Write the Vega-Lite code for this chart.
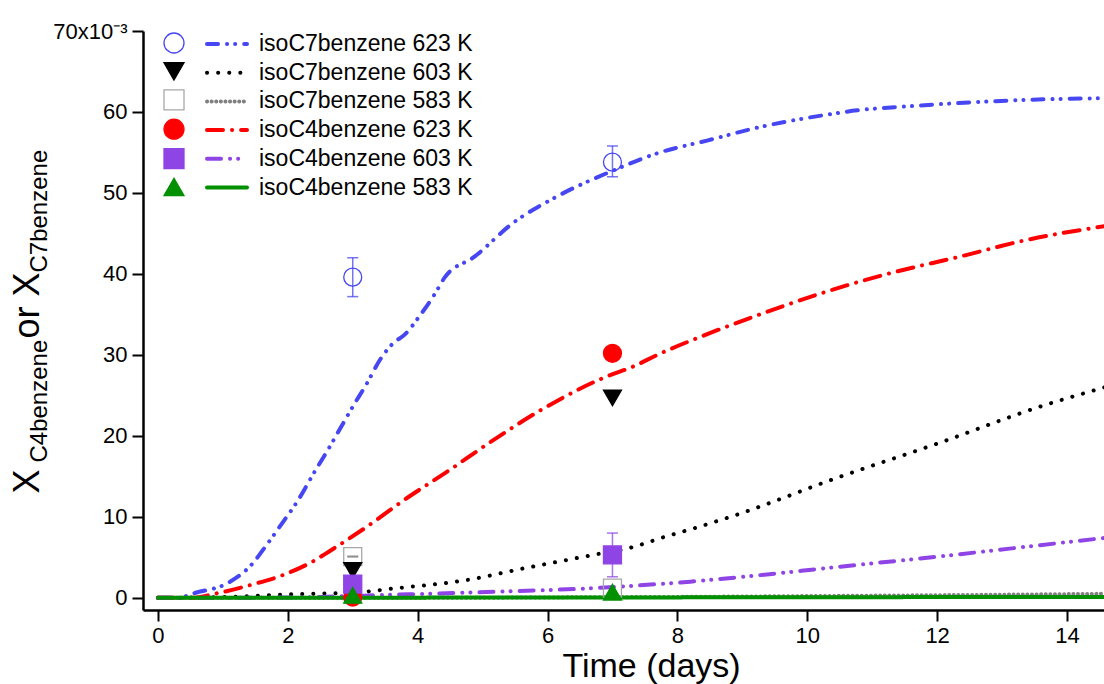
{
  "$schema": "https://vega.github.io/schema/vega-lite/v6.json",
  "width": 961,
  "height": 579,
  "autosize": {"type": "none"},
  "padding": {"left": 143, "top": 31, "right": 0, "bottom": 74},
  "background": "white",
  "config": {
    "view": {"stroke": null},
    "font": "Liberation Sans",
    "axis": {
      "grid": false,
      "domainColor": "black",
      "domainWidth": 2.5,
      "tickColor": "black",
      "tickWidth": 2,
      "tickSize": 11,
      "labelFont": "Liberation Sans",
      "labelFontSize": 22,
      "labelColor": "black",
      "titleFont": "Liberation Sans",
      "titleFontWeight": "normal",
      "titleColor": "black"
    },
    "legend": {"labelFont": "Liberation Sans", "labelColor": "black", "labelLimit": 0}
  },
  "datasets": {
    "curves": [
      {"s": "isoC7benzene 623 K", "t": 0, "v": 0},
      {"s": "isoC7benzene 623 K", "t": 0.3, "v": 0},
      {"s": "isoC7benzene 623 K", "t": 0.57, "v": 0.6},
      {"s": "isoC7benzene 623 K", "t": 1.08, "v": 1.85},
      {"s": "isoC7benzene 623 K", "t": 1.43, "v": 4.0},
      {"s": "isoC7benzene 623 K", "t": 1.68, "v": 6.6},
      {"s": "isoC7benzene 623 K", "t": 1.92, "v": 9.3},
      {"s": "isoC7benzene 623 K", "t": 2.13, "v": 11.7},
      {"s": "isoC7benzene 623 K", "t": 2.43, "v": 15.8},
      {"s": "isoC7benzene 623 K", "t": 2.62, "v": 18.3},
      {"s": "isoC7benzene 623 K", "t": 2.82, "v": 21.1},
      {"s": "isoC7benzene 623 K", "t": 3.03, "v": 24.0},
      {"s": "isoC7benzene 623 K", "t": 3.22, "v": 26.5},
      {"s": "isoC7benzene 623 K", "t": 3.42, "v": 29.4},
      {"s": "isoC7benzene 623 K", "t": 3.63, "v": 31.5},
      {"s": "isoC7benzene 623 K", "t": 3.8, "v": 32.5},
      {"s": "isoC7benzene 623 K", "t": 4.02, "v": 34.7},
      {"s": "isoC7benzene 623 K", "t": 4.27, "v": 37.6},
      {"s": "isoC7benzene 623 K", "t": 4.42, "v": 39.6},
      {"s": "isoC7benzene 623 K", "t": 4.87, "v": 42.1},
      {"s": "isoC7benzene 623 K", "t": 5.47, "v": 46.3},
      {"s": "isoC7benzene 623 K", "t": 6.13, "v": 49.5},
      {"s": "isoC7benzene 623 K", "t": 7.02, "v": 52.8},
      {"s": "isoC7benzene 623 K", "t": 7.69, "v": 54.9},
      {"s": "isoC7benzene 623 K", "t": 8.47, "v": 56.5},
      {"s": "isoC7benzene 623 K", "t": 9.25, "v": 58.1},
      {"s": "isoC7benzene 623 K", "t": 10.25, "v": 59.6},
      {"s": "isoC7benzene 623 K", "t": 10.77, "v": 60.2},
      {"s": "isoC7benzene 623 K", "t": 11.55, "v": 60.7},
      {"s": "isoC7benzene 623 K", "t": 12.33, "v": 61.1},
      {"s": "isoC7benzene 623 K", "t": 13.38, "v": 61.5},
      {"s": "isoC7benzene 623 K", "t": 14.58, "v": 61.7},
      {"s": "isoC7benzene 583 K", "t": 0, "v": 0},
      {"s": "isoC7benzene 583 K", "t": 4, "v": 0},
      {"s": "isoC7benzene 583 K", "t": 6, "v": 0.05},
      {"s": "isoC7benzene 583 K", "t": 8, "v": 0.12},
      {"s": "isoC7benzene 583 K", "t": 10, "v": 0.22},
      {"s": "isoC7benzene 583 K", "t": 12, "v": 0.33},
      {"s": "isoC7benzene 583 K", "t": 14.58, "v": 0.5},
      {"s": "isoC7benzene 603 K", "t": 0, "v": 0},
      {"s": "isoC7benzene 603 K", "t": 1, "v": 0.1},
      {"s": "isoC7benzene 603 K", "t": 1.92, "v": 0.4},
      {"s": "isoC7benzene 603 K", "t": 3.1, "v": 0.7},
      {"s": "isoC7benzene 603 K", "t": 3.68, "v": 1.2},
      {"s": "isoC7benzene 603 K", "t": 4.3, "v": 1.7},
      {"s": "isoC7benzene 603 K", "t": 4.68, "v": 2.1},
      {"s": "isoC7benzene 603 K", "t": 5.67, "v": 3.7},
      {"s": "isoC7benzene 603 K", "t": 6.7, "v": 5.3},
      {"s": "isoC7benzene 603 K", "t": 7.33, "v": 6.3},
      {"s": "isoC7benzene 603 K", "t": 7.75, "v": 7.4},
      {"s": "isoC7benzene 603 K", "t": 8.22, "v": 8.5},
      {"s": "isoC7benzene 603 K", "t": 8.89, "v": 10.2},
      {"s": "isoC7benzene 603 K", "t": 10.45, "v": 14.8},
      {"s": "isoC7benzene 603 K", "t": 12.02, "v": 19.1},
      {"s": "isoC7benzene 603 K", "t": 13.58, "v": 23.6},
      {"s": "isoC7benzene 603 K", "t": 14.58, "v": 26.0},
      {"s": "isoC4benzene 623 K", "t": 0, "v": 0},
      {"s": "isoC4benzene 623 K", "t": 0.5, "v": 0},
      {"s": "isoC4benzene 623 K", "t": 0.93, "v": 0.6},
      {"s": "isoC4benzene 623 K", "t": 1.43, "v": 1.6},
      {"s": "isoC4benzene 623 K", "t": 1.92, "v": 2.8},
      {"s": "isoC4benzene 623 K", "t": 2.43, "v": 4.7},
      {"s": "isoC4benzene 623 K", "t": 2.63, "v": 5.7},
      {"s": "isoC4benzene 623 K", "t": 3.22, "v": 8.8},
      {"s": "isoC4benzene 623 K", "t": 3.83, "v": 12.3},
      {"s": "isoC4benzene 623 K", "t": 4.42, "v": 15.4},
      {"s": "isoC4benzene 623 K", "t": 5.17, "v": 19.5},
      {"s": "isoC4benzene 623 K", "t": 5.9, "v": 23.2},
      {"s": "isoC4benzene 623 K", "t": 6.9, "v": 27.3},
      {"s": "isoC4benzene 623 K", "t": 7.33, "v": 28.6},
      {"s": "isoC4benzene 623 K", "t": 7.69, "v": 30.0},
      {"s": "isoC4benzene 623 K", "t": 8.47, "v": 32.6},
      {"s": "isoC4benzene 623 K", "t": 9.2, "v": 34.8},
      {"s": "isoC4benzene 623 K", "t": 10.25, "v": 37.7},
      {"s": "isoC4benzene 623 K", "t": 11.28, "v": 40.1},
      {"s": "isoC4benzene 623 K", "t": 12.33, "v": 42.1},
      {"s": "isoC4benzene 623 K", "t": 13.38, "v": 44.2},
      {"s": "isoC4benzene 623 K", "t": 14.58, "v": 45.9},
      {"s": "isoC4benzene 603 K", "t": 0, "v": 0},
      {"s": "isoC4benzene 603 K", "t": 2, "v": 0.05},
      {"s": "isoC4benzene 603 K", "t": 3.68, "v": 0.4},
      {"s": "isoC4benzene 603 K", "t": 5.18, "v": 0.75},
      {"s": "isoC4benzene 603 K", "t": 6.7, "v": 1.2},
      {"s": "isoC4benzene 603 K", "t": 7.33, "v": 1.5},
      {"s": "isoC4benzene 603 K", "t": 8.2, "v": 2.0},
      {"s": "isoC4benzene 603 K", "t": 8.89, "v": 2.5},
      {"s": "isoC4benzene 603 K", "t": 10.45, "v": 3.8},
      {"s": "isoC4benzene 603 K", "t": 12.02, "v": 5.1},
      {"s": "isoC4benzene 603 K", "t": 13.58, "v": 6.5},
      {"s": "isoC4benzene 603 K", "t": 14.58, "v": 7.4},
      {"s": "isoC4benzene 583 K", "t": 0, "v": 0},
      {"s": "isoC4benzene 583 K", "t": 7, "v": 0.05},
      {"s": "isoC4benzene 583 K", "t": 14.58, "v": 0.12}
    ],
    "pts": [
      {"p": "C7_623", "t": 3, "v": 39.6, "lo": 37.2, "hi": 42.0},
      {"p": "C7_623", "t": 7, "v": 53.8, "lo": 52.0, "hi": 55.8},
      {"p": "C7_583", "t": 3, "v": 5.1, "lo": 5.05, "hi": 5.15},
      {"p": "C7_583", "t": 7, "v": 1.2},
      {"p": "C7_603", "t": 3, "v": 3.4},
      {"p": "C7_603", "t": 7, "v": 24.7},
      {"p": "C4_623", "t": 3, "v": 0.1},
      {"p": "C4_623", "t": 7, "v": 30.2},
      {"p": "C4_603", "t": 3, "v": 1.7},
      {"p": "C4_603", "t": 7, "v": 5.3, "lo": 2.6, "hi": 8.0},
      {"p": "C4_583", "t": 3, "v": 0.3},
      {"p": "C4_583", "t": 7, "v": 0.7}
    ]
  },
  "resolve": {"axis": {"y": "independent"}},
  "layer": [
    {
      "data": {"name": "curves"},
      "mark": {"type": "line", "strokeCap": "round", "strokeWidth": 4, "clip": true, "interpolate": "monotone"},
      "encoding": {
        "x": {
          "field": "t", "type": "quantitative",
          "scale": {"domain": [-0.23, 14.57], "nice": false, "zero": false},
          "axis": {
            "values": [0, 2, 4, 6, 8, 10, 12, 14],
            "format": "d",
            "labelPadding": 4,
            "title": "Time (days)",
            "titleFontSize": 34,
            "titleX": 508,
            "titleY": 66,
            "titleAlign": "center",
            "titleBaseline": "alphabetic"
          }
        },
        "y": {
          "field": "v", "type": "quantitative",
          "scale": {"domain": [-1.5, 70], "nice": false, "zero": false},
          "axis": {
            "orient": "left",
            "values": [0, 10, 20, 30, 40, 50, 60, 70],
            "labelExpr": "datum.value == 70 ? '70x10⁻³' : datum.label",
            "labelPadding": 5,
            "title": "X",
            "titleFontSize": 36,
            "titleAngle": 270,
            "titleX": -105,
            "titleY": 462,
            "titleAlign": "left",
            "titleBaseline": "alphabetic"
          }
        },
        "stroke": {
          "field": "s", "type": "nominal",
          "scale": {
            "domain": ["isoC7benzene 623 K", "isoC7benzene 603 K", "isoC7benzene 583 K", "isoC4benzene 623 K", "isoC4benzene 603 K", "isoC4benzene 583 K"],
            "range": ["#4646f2", "#000000", "#808080", "#ff0000", "#8f44e6", "#009000"]
          },
          "legend": {
            "orient": "none", "legendX": 72, "legendY": 1, "title": null,
            "labelFontSize": 23, "labelOffset": 20, "rowPadding": 4.7, "padding": 0,
            "symbolType": "M-2,0H2", "symbolSize": 400, "symbolStrokeWidth": 4,
            "encode": {"symbols": {"update": {"strokeCap": {"value": "round"}}}}
          }
        },
        "strokeDash": {
          "field": "s", "type": "nominal",
          "scale": {
            "domain": ["isoC7benzene 623 K", "isoC7benzene 603 K", "isoC7benzene 583 K", "isoC4benzene 623 K", "isoC4benzene 603 K", "isoC4benzene 583 K"],
            "range": [[11, 9, 0.1, 8, 0.1, 9], [0.1, 11], [0.1, 4.5], [16, 9, 0.1, 9], [14, 9, 0.1, 8, 0.1, 9], [1, 0]]
          },
          "legend": {
            "orient": "none", "legendX": 72, "legendY": 1, "title": null,
            "labelFontSize": 23, "labelOffset": 20, "rowPadding": 4.7, "padding": 0,
            "symbolType": "M-2,0H2", "symbolSize": 400, "symbolStrokeWidth": 4,
            "encode": {"symbols": {"update": {"strokeCap": {"value": "round"}}}}
          }
        }
      }
    },
    {
      "data": {"name": "pts"},
      "transform": [{"filter": "datum.lo != null"}],
      "mark": {"type": "rule", "strokeWidth": 1.5, "opacity": 0.75},
      "encoding": {
        "x": {"field": "t", "type": "quantitative", "scale": {"domain": [-0.23, 14.57], "nice": false, "zero": false}},
        "y": {
          "field": "lo", "type": "quantitative",
          "scale": {"domain": [-1.5, 70], "nice": false, "zero": false},
          "axis": {
            "orient": "left", "domain": false, "ticks": false, "labels": false,
            "title": "C4benzene", "titleFontSize": 24, "titleAngle": 270,
            "titleX": -97, "titleY": 431, "titleAlign": "left", "titleBaseline": "alphabetic"
          }
        },
        "y2": {"field": "hi"},
        "color": {
          "condition": [
            {"test": "datum.p == 'C7_623'", "value": "#4646f2"},
            {"test": "datum.p == 'C4_603'", "value": "#8f44e6"}
          ],
          "value": "#a8a8a8"
        }
      }
    },
    {
      "data": {"name": "pts"},
      "transform": [{"filter": "datum.lo != null"}],
      "mark": {"type": "tick", "orient": "horizontal", "size": 11, "thickness": 1.5, "opacity": 0.75},
      "encoding": {
        "x": {"field": "t", "type": "quantitative", "scale": {"domain": [-0.23, 14.57], "nice": false, "zero": false}},
        "y": {
          "field": "lo", "type": "quantitative",
          "scale": {"domain": [-1.5, 70], "nice": false, "zero": false},
          "axis": {
            "orient": "left", "domain": false, "ticks": false, "labels": false,
            "title": "or X", "titleFontSize": 36, "titleAngle": 270,
            "titleX": -105, "titleY": 307, "titleAlign": "left", "titleBaseline": "alphabetic"
          }
        },
        "color": {
          "condition": [
            {"test": "datum.p == 'C7_623'", "value": "#4646f2"},
            {"test": "datum.p == 'C4_603'", "value": "#8f44e6"}
          ],
          "value": "#808080"
        }
      }
    },
    {
      "data": {"name": "pts"},
      "transform": [{"filter": "datum.hi != null"}],
      "mark": {"type": "tick", "orient": "horizontal", "size": 11, "thickness": 1.5, "opacity": 0.75},
      "encoding": {
        "x": {"field": "t", "type": "quantitative", "scale": {"domain": [-0.23, 14.57], "nice": false, "zero": false}},
        "y": {
          "field": "hi", "type": "quantitative",
          "scale": {"domain": [-1.5, 70], "nice": false, "zero": false},
          "axis": {
            "orient": "left", "domain": false, "ticks": false, "labels": false,
            "title": "C7benzene", "titleFontSize": 24, "titleAngle": 270,
            "titleX": -97, "titleY": 241, "titleAlign": "left", "titleBaseline": "alphabetic"
          }
        },
        "color": {
          "condition": [
            {"test": "datum.p == 'C7_623'", "value": "#4646f2"},
            {"test": "datum.p == 'C4_603'", "value": "#8f44e6"}
          ],
          "value": "#808080"
        }
      }
    },
    {
      "data": {"name": "pts"},
      "mark": {"type": "point", "filled": false, "size": 324, "strokeWidth": 1.3, "opacity": 1},
      "encoding": {
        "x": {"field": "t", "type": "quantitative", "scale": {"domain": [-0.23, 14.57], "nice": false, "zero": false}},
        "y": {
          "field": "v", "type": "quantitative",
          "scale": {"domain": [-1.5, 70], "nice": false, "zero": false},
          "axis": null
        },
        "color": {
          "field": "p", "type": "nominal",
          "scale": {
            "domain": ["C7_623", "C7_603", "C7_583", "C4_623", "C4_603", "C4_583"],
            "range": ["#4646f2", "#000000", "#a8a8a8", "#ff0000", "#8f44e6", "#009000"]
          },
          "legend": {
            "orient": "none", "legendX": 20, "legendY": 1, "title": null,
            "labelExpr": "' '", "labelFontSize": 21, "rowPadding": 3.4, "padding": 0,
            "symbolSize": 400, "symbolStrokeWidth": 1.3, "symbolOpacity": 1
          }
        },
        "fill": {
          "field": "p", "type": "nominal",
          "scale": {
            "domain": ["C7_623", "C7_603", "C7_583", "C4_623", "C4_603", "C4_583"],
            "range": ["transparent", "#000000", "transparent", "#ff0000", "#8f44e6", "#009000"]
          },
          "legend": {
            "orient": "none", "legendX": 20, "legendY": 1, "title": null,
            "labelExpr": "' '", "labelFontSize": 21, "rowPadding": 3.4, "padding": 0,
            "symbolSize": 400, "symbolStrokeWidth": 1.3, "symbolOpacity": 1
          }
        },
        "shape": {
          "field": "p", "type": "nominal",
          "scale": {
            "domain": ["C7_623", "C7_603", "C7_583", "C4_623", "C4_603", "C4_583"],
            "range": ["circle", "triangle-down", "square", "circle", "square", "triangle-up"]
          },
          "legend": {
            "orient": "none", "legendX": 20, "legendY": 1, "title": null,
            "labelExpr": "' '", "labelFontSize": 21, "rowPadding": 3.4, "padding": 0,
            "symbolSize": 400, "symbolStrokeWidth": 1.3, "symbolOpacity": 1
          }
        }
      }
    }
  ]
}
